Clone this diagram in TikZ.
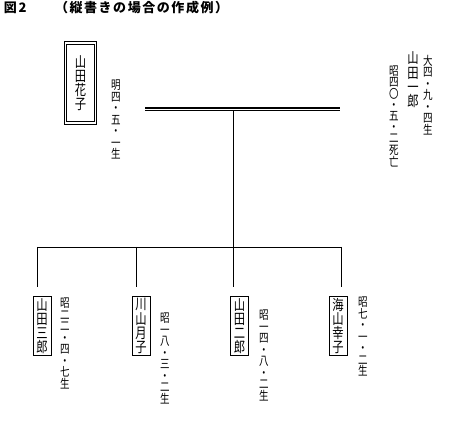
\documentclass[tikz,border=0pt]{standalone}
\usepackage{fontspec}
\newfontfamily\jp[LetterSpace=12]{Noto Sans CJK JP}
\newfontfamily\jpn[FakeStretch=0.78]{Noto Sans CJK JP}
\tikzset{
  every node/.style={inner sep=0pt, outer sep=0pt},
  vname/.style={font=\jpn\fontsize{14.5}{14.2}\selectfont, align=center},
  vdate/.style={font=\jpn\fontsize{12.2}{11.5}\selectfont, align=center},
  vdatetight/.style={font=\jpn\fontsize{12.2}{11.2}\selectfont, align=center},
  head/.style={font=\jp\bfseries\fontsize{13}{13}\selectfont, anchor=base west},
  childbox/.style={vname, draw, line width=0.8pt, minimum width=18pt, minimum height=59pt},
  motherbox/.style={vname, draw, double, line width=0.8pt, double distance=1.6pt, minimum width=30pt, minimum height=80pt},
  link/.style={line width=0.7pt},
  marriage/.style={double, line width=1.1pt, double distance=1.8pt},
}
\begin{document}
\begin{tikzpicture}[x=1pt,y=-1pt]
\useasboundingbox (0,0) rectangle (449,427);
% heading
\node[head] (fig) at (4,13) {図2};
\node[head] (cap) at (55,13) {（縦書きの場合の作成例）};
% parents
\node[motherbox] (mother) at (80.5,83) {山\\田\\花\\子};
\node[vdate, anchor=north] (mdate) at (116,80) {明\\四\\・\\五\\・\\一\\生};
\node[vname, anchor=north] (father) at (413,52) {山\\田\\一\\郎};
\node[vdate, anchor=north] (fborn) at (428,55) {大\\四\\・\\九\\・\\四\\生};
\node[vdatetight, anchor=north] (fdied) at (394,66) {昭\\四\\〇\\・\\五\\・\\二\\死\\亡};
% marriage line
\coordinate (mL) at (145,109.5);
\coordinate (mR) at (340,109.5);
\draw[marriage] (mL) -- (mR);
\coordinate (jn) at (233,111);
% sibling bar
\coordinate (hb1) at (37,247);
\coordinate (hb2) at (136,247);
\coordinate (hb3) at (233,247);
\coordinate (hb4) at (341,247);
\draw[link] (jn) -- (hb3);
\draw[link] (hb1) -- (hb4);
\coordinate (t1) at (37,287);
\coordinate (t2) at (136,287);
\coordinate (t3) at (233,287);
\coordinate (t4) at (341,287);
\draw[link] (hb1) -- (t1);
\draw[link] (hb2) -- (t2);
\draw[link] (hb3) -- (t3);
\draw[link] (hb4) -- (t4);
% children
\node[childbox] (c1) at (42,326) {山\\田\\三\\郎};
\node[childbox] (c2) at (141,326) {川\\山\\月\\子};
\node[childbox] (c3) at (239.5,326) {山\\田\\二\\郎};
\node[childbox] (c4) at (338,326) {海\\山\\幸\\子};
\node[vdate, anchor=north] (d1) at (65,298) {昭\\二\\二\\・\\四\\・\\七\\生};
\node[vdate, anchor=north] (d2) at (165,313) {昭\\一\\八\\・\\三\\・\\二\\生};
\node[vdate, anchor=north] (d3) at (264,310) {昭\\一\\四\\・\\八\\・\\二\\生};
\node[vdate, anchor=north] (d4) at (363,297) {昭\\七\\・\\一\\・\\二\\生};
\end{tikzpicture}
\end{document}
